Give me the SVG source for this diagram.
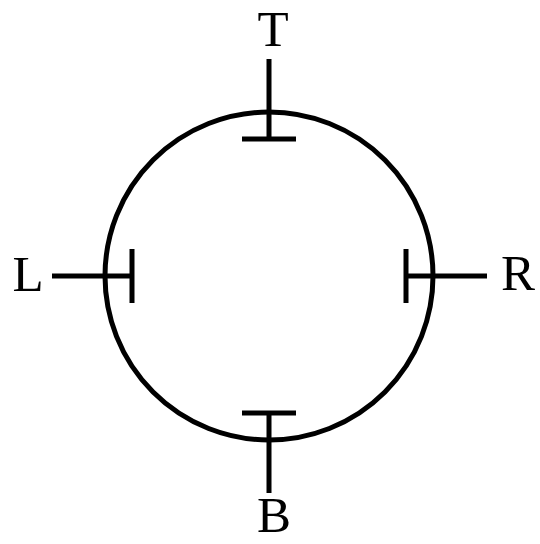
<svg xmlns="http://www.w3.org/2000/svg" width="540" height="544" viewBox="0 0 540 544">
<style>
.ln{fill:none;stroke:#000;stroke-width:5}
.lb{font-family:"Liberation Serif","Times New Roman",serif;font-size:51px;fill:#000;text-anchor:middle}
</style>
<rect width="540" height="544" fill="#fff"/>
<g id="circle"><circle class="ln" cx="269" cy="276" r="164"/></g>
<g id="connectors">
<path class="ln" d="M269 59V139M242 139H296"/>
<path class="ln" d="M52 276H132M132 249V303"/>
<path class="ln" d="M487 276H406M406 249V303"/>
<path class="ln" d="M269 493V413M242 413H296"/>
</g>
<g id="T"><text class="lb" x="273" y="46">T</text></g>
<g id="L"><text class="lb" x="28" y="291">L</text></g>
<g id="R"><text class="lb" x="518" y="290">R</text></g>
<g id="B"><text class="lb" x="274" y="532">B</text></g>
</svg>
